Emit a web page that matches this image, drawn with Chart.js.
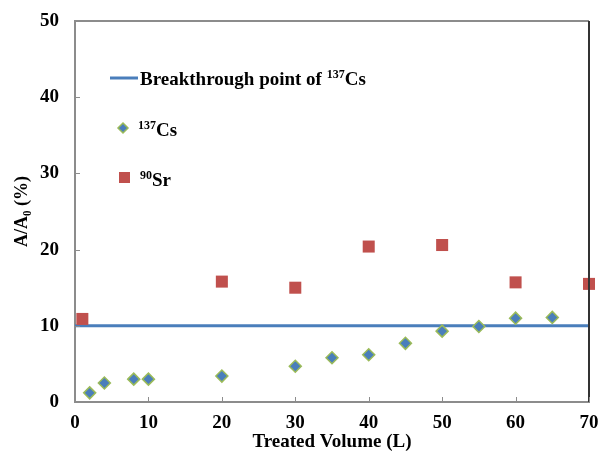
<!DOCTYPE html>
<html>
<head>
<meta charset="utf-8">
<script src="https://cdn.jsdelivr.net/npm/chart.js@4"></script>
<style>
  html, body { margin: 0; padding: 0; background: #fff; }
  #wrap { width: 598px; height: 452px; }
</style>
</head>
<body>
<div id="wrap"><canvas id="chart"></canvas></div>
<script>
// values
const csVolume = [2, 4, 8, 10, 20, 30, 35, 40, 45, 50, 55, 60, 65];
const csRatio = [1.2, 2.5, 3.0, 3.0, 3.4, 4.7, 5.8, 6.2, 7.7, 9.3, 9.9, 11.0, 11.1];
const srVolume = [1, 20, 30, 40, 50, 60, 70];
const srRatio = [10.9, 15.8, 15.0, 20.4, 20.6, 15.7, 15.5];
const breakthroughVolume = [0, 70];
const breakthroughLevel = 10;

const FONT = "'Liberation Serif', 'Times New Roman', serif";
const BLUE = '#4a7ebb';
const RED = '#c0504d';
const AXIS = '#8c8c8c';

const toPoints = (xs, ys) => xs.map((x, i) => ({ x: x, y: ys[i] }));

// legend drawn inside the plot, with superscripts
const legendPlugin = {
  id: 'insideLegend',
  afterDraw(chart) {
    const ctx = chart.ctx;
    ctx.save();
    ctx.fillStyle = '#000';
    ctx.textBaseline = 'alphabetic';
    const big = 'bold 19px ' + FONT;
    const small = 'bold 12px ' + FONT;
    function txt(parts, x, y) {
      parts.forEach(p => {
        ctx.font = p.sup ? small : big;
        ctx.fillText(p.t, x, p.sup ? y - 7 : y);
        x += ctx.measureText(p.t).width;
      });
    }
    // line entry
    ctx.strokeStyle = BLUE;
    ctx.lineWidth = 3;
    ctx.beginPath();
    ctx.moveTo(110, 78);
    ctx.lineTo(138, 78);
    ctx.stroke();
    txt([{ t: 'Breakthrough point of ' }, { t: '137', sup: true }, { t: 'Cs' }], 140, 85);
    // diamond entry
    ctx.fillStyle = BLUE;
    ctx.strokeStyle = '#9bbb59';
    ctx.lineWidth = 1.5;
    ctx.beginPath();
    ctx.moveTo(123, 123);
    ctx.lineTo(128, 128);
    ctx.lineTo(123, 133);
    ctx.lineTo(118, 128);
    ctx.closePath();
    ctx.fill();
    ctx.stroke();
    ctx.fillStyle = '#000';
    txt([{ t: '137', sup: true }, { t: 'Cs' }], 138, 136);
    // square entry
    ctx.fillStyle = RED;
    ctx.fillRect(119, 172, 11, 11);
    ctx.fillStyle = '#000';
    txt([{ t: '90', sup: true }, { t: 'Sr' }], 140, 186);
    ctx.restore();
  }
};

// frame: grey top, dark right, plus inward ticks on both axes
const framePlugin = {
  id: 'frame',
  afterDatasetsDraw(chart) {
    const a = chart.chartArea;
    const ctx = chart.ctx;
    const xs = chart.scales.x;
    const ys = chart.scales.y;
    ctx.save();
    ctx.strokeStyle = AXIS;
    ctx.lineWidth = 2;
    ctx.beginPath();
    ctx.moveTo(a.left, a.top);
    ctx.lineTo(a.right, a.top);
    ctx.stroke();
    ctx.strokeStyle = '#333';
    ctx.lineWidth = 2;
    ctx.beginPath();
    ctx.moveTo(a.right, a.top);
    ctx.lineTo(a.right, a.bottom);
    ctx.stroke();
    ctx.strokeStyle = AXIS;
    ctx.lineWidth = 1;
    xs.ticks.forEach(t => {
      const px = Math.round(xs.getPixelForValue(t.value)) + 0.5;
      ctx.beginPath();
      ctx.moveTo(px, a.bottom);
      ctx.lineTo(px, a.bottom - 5);
      ctx.stroke();
    });
    ys.ticks.forEach(t => {
      const py = Math.round(ys.getPixelForValue(t.value)) + 0.5;
      ctx.beginPath();
      ctx.moveTo(a.left, py);
      ctx.lineTo(a.left + 5, py);
      ctx.stroke();
    });
    ctx.restore();
  }
};

new Chart(document.getElementById('chart'), {
  type: 'scatter',
  data: {
    datasets: [
      {
        label: 'Breakthrough point of 137Cs',
        type: 'line',
        data: toPoints(breakthroughVolume, breakthroughVolume.map(() => breakthroughLevel)),
        borderColor: BLUE,
        borderWidth: 3,
        pointRadius: 0,
        fill: false,
        order: 3
      },
      {
        label: '137Cs',
        data: toPoints(csVolume, csRatio),
        pointStyle: 'rectRot',
        pointRadius: 6,
        backgroundColor: BLUE,
        borderColor: '#9bbb59',
        borderWidth: 1.5,
        order: 1
      },
      {
        label: '90Sr',
        data: toPoints(srVolume, srRatio),
        pointStyle: 'rect',
        pointRadius: 8.5,
        backgroundColor: RED,
        borderColor: RED,
        borderWidth: 0,
        order: 2
      }
    ]
  },
  options: {
    responsive: true,
    maintainAspectRatio: false,
    animation: false,
    clip: false,
    layout: { padding: { left: 0, right: 9, top: 21, bottom: 0 } },
    plugins: {
      legend: { display: false },
      tooltip: { enabled: false }
    },
    scales: {
      x: {
        type: 'linear',
        min: 0,
        max: 70,
        afterFit(scale) {
          scale.height = 50;
          scale.paddingLeft = 0;
          scale.paddingRight = 0;
        },
        border: { display: true, color: AXIS, width: 2 },
        grid: { display: false, drawTicks: false },
        ticks: {
          stepSize: 10,
          padding: 10,
          color: '#000',
          font: { family: FONT, size: 19, weight: 'bold' }
        },
        title: {
          display: true,
          text: 'Treated Volume (L)',
          color: '#000',
          padding: { top: 0, bottom: -1 },
          font: { family: FONT, size: 19, weight: 'bold' }
        }
      },
      y: {
        min: 0,
        max: 50,
        afterFit(scale) {
          scale.width = 75;
          scale.paddingTop = 0;
          scale.paddingBottom = 0;
        },
        border: { display: true, color: AXIS, width: 2 },
        grid: { display: false, drawTicks: false },
        ticks: {
          stepSize: 10,
          padding: 16,
          color: '#000',
          font: { family: FONT, size: 19, weight: 'bold' }
        },
        title: {
          display: true,
          text: 'A/A\u2080 (%)',
          color: '#000',
          padding: { top: 12, bottom: 0 },
          font: { family: FONT, size: 18, weight: 'bold' }
        }
      }
    }
  },
  plugins: [framePlugin, legendPlugin]
});
</script>
</body>
</html>
